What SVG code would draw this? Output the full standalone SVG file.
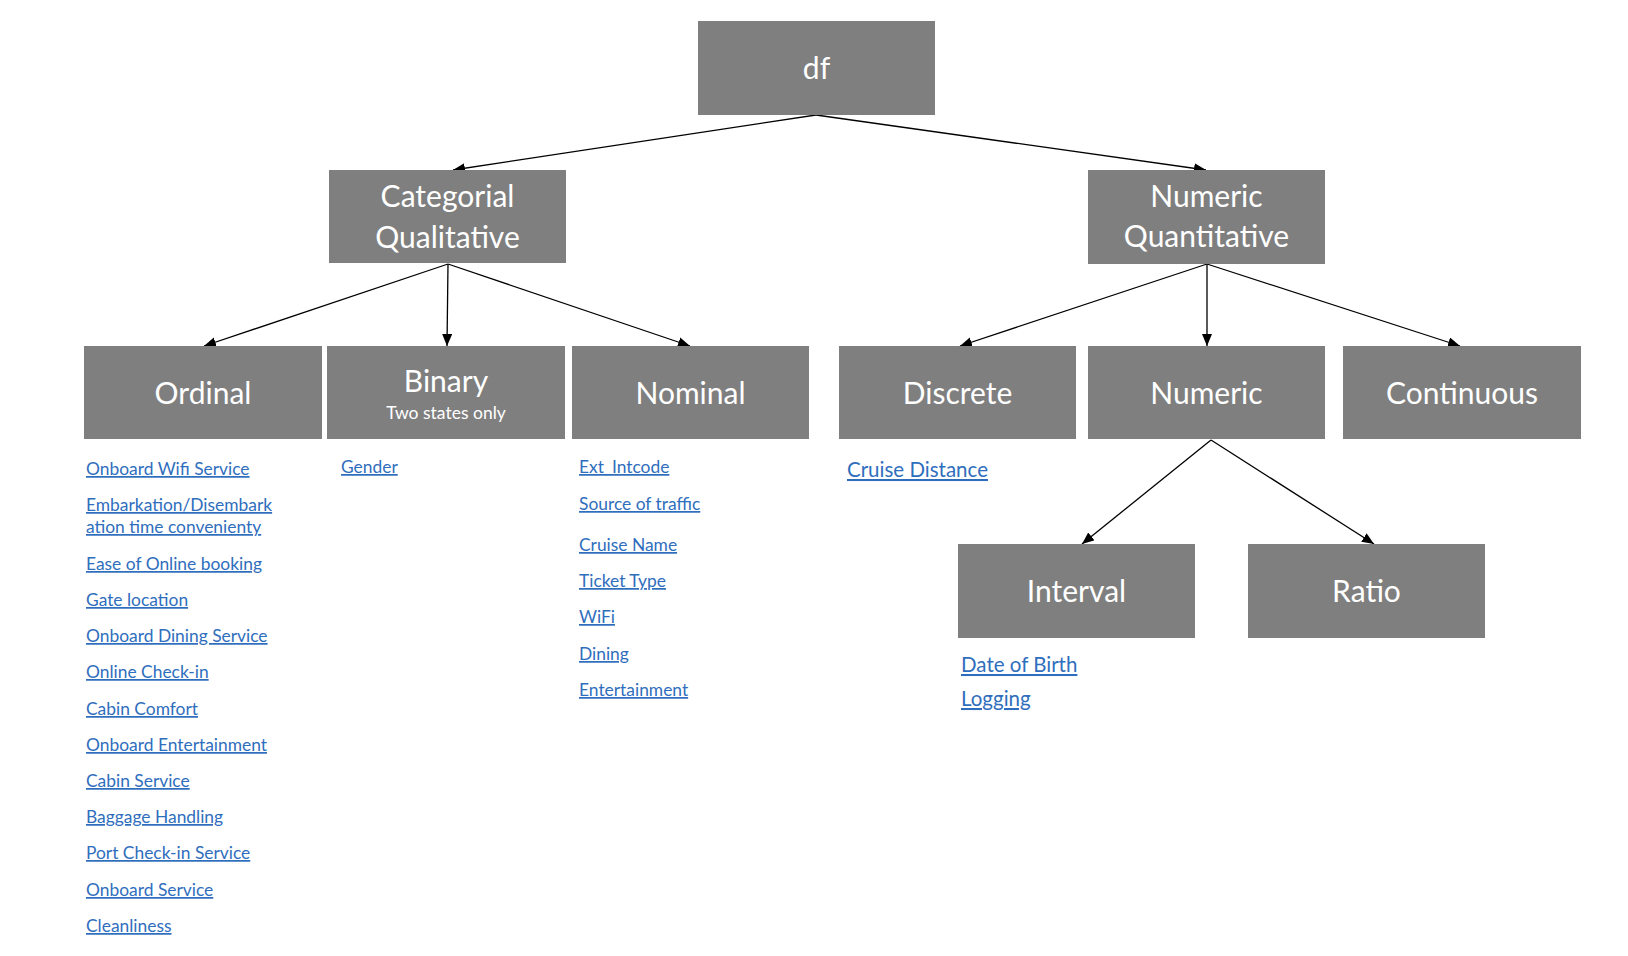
<svg xmlns="http://www.w3.org/2000/svg" width="1628" height="956" viewBox="0 0 1628 956">
<style>
.box{fill:#7f7f7f}
.t{font-family:Lato,"Open Sans","DejaVu Sans",sans-serif;fill:#ffffff;text-anchor:middle;font-size:30px}
.sub{font-size:17.5px}
.lk{font-family:Lato,"Open Sans","DejaVu Sans",sans-serif;fill:#2f6ebd;font-size:17.4px;text-decoration:underline;text-decoration-thickness:2.4px;text-underline-offset:3px}
.lk2{font-size:20.5px}
.c{stroke:#000;stroke-width:1.3;fill:none;marker-end:url(#ah)}
</style>
<defs>
<marker id="ah" markerUnits="userSpaceOnUse" markerWidth="14" markerHeight="12" refX="12" refY="5" orient="auto">
<path d="M0,0 L12,5 L0,10 Z" fill="#000"/>
</marker>
</defs>
<rect width="1628" height="956" fill="#ffffff"/>
<g id="connectors">
<line class="c" x1="816" y1="115" x2="453" y2="170"/>
<line class="c" x1="816" y1="115" x2="1206" y2="170"/>
<line class="c" x1="448" y1="264" x2="204" y2="346"/>
<line class="c" x1="448" y1="264" x2="447" y2="346"/>
<line class="c" x1="448" y1="264" x2="690" y2="346"/>
<line class="c" x1="1207" y1="264" x2="960" y2="346"/>
<line class="c" x1="1207" y1="264" x2="1207" y2="346"/>
<line class="c" x1="1207" y1="264" x2="1460" y2="346"/>
<line class="c" x1="1211" y1="440" x2="1082" y2="544"/>
<line class="c" x1="1211" y1="440" x2="1374" y2="544"/>
</g>
<g id="df"><rect class="box" x="698" y="21" width="237" height="94"/><text class="t" x="816.5" y="79">df</text></g>
<g id="categorial"><rect class="box" x="329" y="170" width="237" height="93"/><text class="t" x="447.5" y="207">Categorial</text><text class="t" x="447.5" y="248">Qualitative</text></g>
<g id="numeric-quantitative"><rect class="box" x="1088" y="170" width="237" height="94"/><text class="t" x="1206.5" y="207">Numeric</text><text class="t" x="1206.5" y="247">Quantitative</text></g>
<g id="ordinal"><rect class="box" x="84" y="346" width="238" height="93"/><text class="t" x="203" y="404">Ordinal</text></g>
<g id="binary"><rect class="box" x="327" y="346" width="238" height="93"/><text class="t" x="446" y="392">Binary</text><text class="t sub" x="446" y="419">Two states only</text></g>
<g id="nominal"><rect class="box" x="572" y="346" width="237" height="93"/><text class="t" x="690.5" y="404">Nominal</text></g>
<g id="discrete"><rect class="box" x="839" y="346" width="237" height="93"/><text class="t" x="957.5" y="404">Discrete</text></g>
<g id="numeric"><rect class="box" x="1088" y="346" width="237" height="93"/><text class="t" x="1206.5" y="404">Numeric</text></g>
<g id="continuous"><rect class="box" x="1343" y="346" width="238" height="93"/><text class="t" x="1462" y="404">Continuous</text></g>
<g id="interval"><rect class="box" x="958" y="544" width="237" height="94"/><text class="t" x="1076.5" y="602">Interval</text></g>
<g id="ratio"><rect class="box" x="1248" y="544" width="237" height="94"/><text class="t" x="1366.5" y="602">Ratio</text></g>
<g id="ordinal-list">
<text class="lk" x="86" y="475">Onboard Wifi Service</text>
<text class="lk" x="86" y="511">Embarkation/Disembark</text>
<text class="lk" x="86" y="533">ation time convenienty</text>
<text class="lk" x="86" y="570">Ease of Online booking</text>
<text class="lk" x="86" y="606">Gate location</text>
<text class="lk" x="86" y="642">Onboard Dining Service</text>
<text class="lk" x="86" y="678">Online Check-in</text>
<text class="lk" x="86" y="715">Cabin Comfort</text>
<text class="lk" x="86" y="751">Onboard Entertainment</text>
<text class="lk" x="86" y="787">Cabin Service</text>
<text class="lk" x="86" y="823">Baggage Handling</text>
<text class="lk" x="86" y="859">Port Check-in Service</text>
<text class="lk" x="86" y="896">Onboard Service</text>
<text class="lk" x="86" y="932">Cleanliness</text>
</g>
<g id="binary-list">
<text class="lk" x="341" y="473">Gender</text>
</g>
<g id="nominal-list">
<text class="lk" x="579" y="473">Ext_Intcode</text>
<text class="lk" x="579" y="510">Source of traffic</text>
<text class="lk" x="579" y="551">Cruise Name</text>
<text class="lk" x="579" y="587">Ticket Type</text>
<text class="lk" x="579" y="623">WiFi</text>
<text class="lk" x="579" y="660">Dining</text>
<text class="lk" x="579" y="696">Entertainment</text>
</g>
<g id="discrete-list">
<text class="lk lk2" x="847" y="477">Cruise Distance</text>
</g>
<g id="interval-list">
<text class="lk lk2" x="961" y="672">Date of Birth</text>
<text class="lk lk2" x="961" y="706">Logging</text>
</g>
</svg>
